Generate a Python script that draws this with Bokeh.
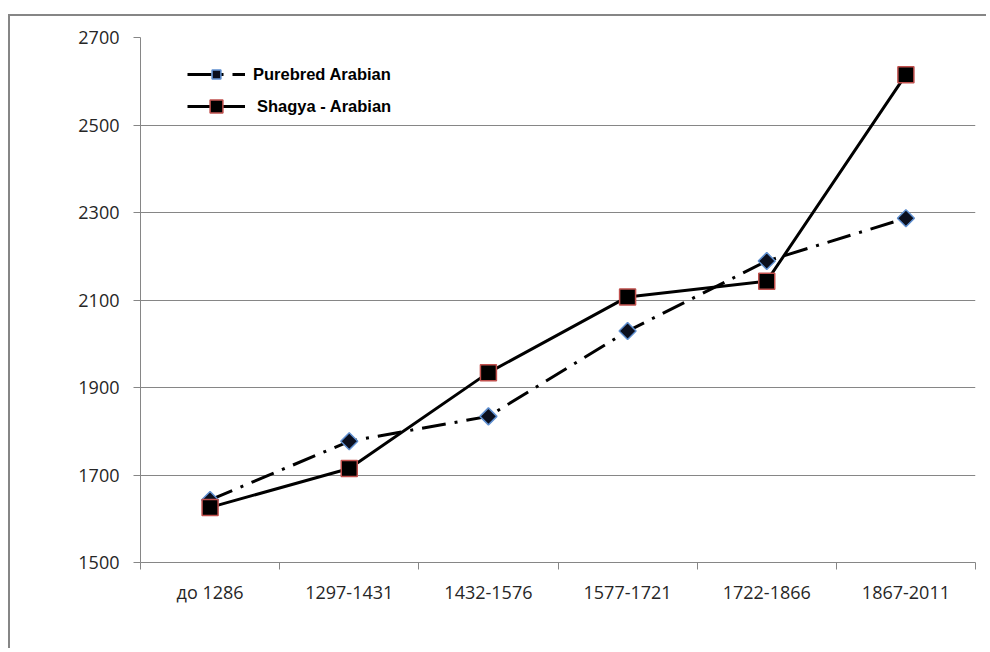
from bokeh.plotting import figure
from bokeh.models import Range1d, FixedTicker, Legend
from bokeh.embed import file_html
from bokeh.resources import INLINE

categories = ["до 1286", "1297-1431", "1432-1576", "1577-1721", "1722-1866", "1867-2011"]
purebred = [1643, 1777, 1834, 2029, 2189, 2287]
shagya = [1626, 1715, 1934, 2107, 2143, 2615]
y_ticks = [1500, 1700, 1900, 2100, 2300, 2500, 2700]

xs = [i + 0.5 for i in range(len(categories))]

W, H = 978, 634
p = figure(width=W, height=H, output_backend="svg", toolbar_location=None,
           x_range=Range1d(0, len(categories)), y_range=Range1d(1500, 2700),
           min_border_left=130, min_border_top=21, min_border_right=13, min_border_bottom=88)
p.margin = (14, 0, 0, 8)
p.styles = {"border-left": "2px solid #868686", "border-top": "2px solid #868686"}
p.outline_line_color = None
p.background_fill_color = "white"
p.border_fill_color = "white"

# axes
p.xaxis.ticker = FixedTicker(ticks=xs, minor_ticks=list(range(len(categories) + 1)))
p.xaxis.major_label_overrides = {x: c for x, c in zip(xs, categories)}
p.yaxis.ticker = FixedTicker(ticks=y_ticks)
for ax in (p.xaxis, p.yaxis):
    ax.axis_line_color = "#868686"
    ax.axis_line_width = 1
    ax.major_label_text_font = "Open Sans"
    ax.major_label_text_font_size = "18px"
    ax.major_label_text_color = "#262626"
p.xaxis.major_tick_line_color = None
p.xaxis.minor_tick_line_color = "#868686"
p.xaxis.minor_tick_out = 7
p.xaxis.minor_tick_in = 0
p.xaxis.major_label_standoff = 10
p.yaxis.major_tick_line_color = "#868686"
p.yaxis.major_tick_out = 7
p.yaxis.major_tick_in = 0
p.yaxis.minor_tick_line_color = None
p.yaxis.major_label_standoff = 14

p.xgrid.grid_line_color = None
p.ygrid.grid_line_color = "#868686"
p.ygrid.grid_line_width = 1

# series
l1 = p.line(xs, purebred, line_color="black", line_width=3, line_dash="24 9 3 9")
m1 = p.scatter(xs, purebred, marker="square", angle=0.785398, size=12,
               fill_color="#0b0f1e", line_color="#5f8fd0", line_width=1.5)
l2 = p.line(xs, shagya, line_color="black", line_width=3)
m2 = p.scatter(xs, shagya, marker="square", size=16,
               fill_color="black", line_color="#c0504d", line_width=1.5)

common = dict(padding=0, margin=0, spacing=0, glyph_width=58,
              border_line_color=None, background_fill_alpha=0,
              label_text_font="Liberation Sans", label_text_font_style="bold",
              label_text_font_size="16.5px", label_text_color="black")
leg1 = Legend(items=[("Purebred Arabian", [l1, m1])], location=(47, 477),
              glyph_height=22, label_height=22, label_standoff=8, **common)
leg2 = Legend(items=[("Shagya - Arabian", [l2, m2])], location=(47, 440),
              glyph_height=32, label_height=32, label_standoff=12, **common)
p.add_layout(leg1)
p.add_layout(leg2)

open("out.html", "w").write(file_html(p, INLINE))
